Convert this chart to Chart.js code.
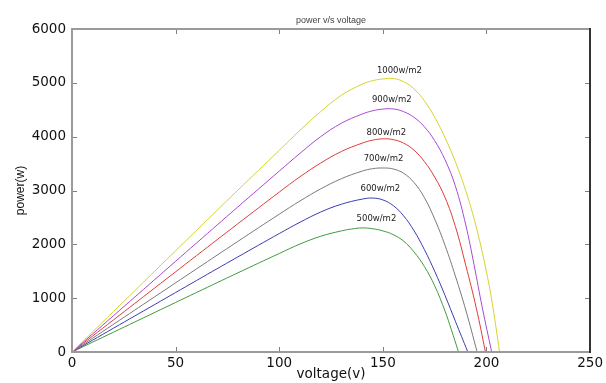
<!DOCTYPE html>
<html><head><meta charset="utf-8">
<script src="https://cdn.jsdelivr.net/npm/chart.js@4/dist/chart.umd.min.js"></script>
<style>html,body{margin:0;padding:0;background:#fff}canvas{display:block}</style>
</head><body>
<canvas id="c" width="606" height="383"></canvas>
<script>
// ---- data ----
const seriesNames = ['1000w/m2', '900w/m2', '800w/m2', '700w/m2', '600w/m2', '500w/m2'];

const v1000 = [0, 20, 40, 60, 80, 100, 110, 120, 130, 140, 145, 150, 155, 160, 165, 170, 175, 180, 185, 190, 195, 200, 203, 206.3];
const p1000 = [0, 752, 1504, 2256, 3005, 3745, 4120, 4465, 4770, 4975, 5040, 5072, 5080, 5022, 4889, 4669, 4361, 3981, 3533, 2995, 2330, 1485, 855, 0];

const v900 = [0, 20, 40, 60, 80, 100, 110, 120, 130, 140, 145, 150, 155, 160, 165, 170, 175, 180, 185, 190, 194, 198, 202.5];
const p900 = [0, 674, 1348, 2022, 2694, 3360, 3690, 4000, 4250, 4420, 4480, 4512, 4515, 4465, 4360, 4185, 3925, 3570, 3080, 2360, 1620, 820, 0];

const v800 = [0, 20, 40, 60, 80, 100, 110, 120, 130, 140, 145, 150, 155, 160, 165, 170, 175, 180, 185, 190, 195, 199.5];
const p800 = [0, 596, 1192, 1788, 2382, 2970, 3255, 3510, 3725, 3880, 3935, 3960, 3945, 3880, 3750, 3540, 3250, 2870, 2330, 1610, 830, 0];

const v700 = [0, 20, 40, 60, 80, 100, 110, 120, 130, 140, 145, 150, 155, 160, 165, 170, 175, 180, 185, 190, 195.5];
const p700 = [0, 514, 1028, 1542, 2054, 2560, 2805, 3030, 3220, 3360, 3405, 3418, 3400, 3320, 3150, 2870, 2470, 1980, 1410, 780, 0];

const v600 = [0, 20, 40, 60, 80, 100, 110, 120, 130, 140, 145, 150, 155, 160, 165, 170, 175, 180, 185, 191];
const p600 = [0, 442, 884, 1326, 1766, 2200, 2410, 2600, 2745, 2840, 2860, 2825, 2720, 2530, 2255, 1905, 1500, 1050, 570, 0];

const v500 = [0, 20, 40, 60, 80, 100, 110, 120, 130, 135, 140, 145, 150, 155, 160, 165, 170, 175, 180, 183, 186.5];
const p500 = [0, 368, 736, 1104, 1470, 1830, 2005, 2150, 2250, 2285, 2305, 2290, 2250, 2180, 2060, 1860, 1590, 1230, 760, 420, 0];

// label anchor values (voltage, power) for the curve annotations
const labelV = [158, 154.3, 151.7, 150.3, 148.8, 146.9];
const labelP = [5229, 4684, 4076, 3587, 3030, 2472];

const xTicks = [0, 50, 100, 150, 200, 250];
const yTicks = [0, 1000, 2000, 3000, 4000, 5000, 6000];

const chartTitle = 'power v/s voltage';
const xTitle = 'voltage(v)';
const yTitle = 'power(w)';

// ---- styles ----
const colors = ['#d4d42a', '#a848d4', '#e03a3a', '#7a7a7a', '#3c3cb0', '#3e9a3e'];
const vs = [v1000, v900, v800, v700, v600, v500];
const ps = [p1000, p900, p800, p700, p600, p500];

const datasets = seriesNames.map((name, i) => ({
  label: name,
  data: vs[i].map((v, j) => ({x: v, y: ps[i][j]})),
  borderColor: colors[i],
  backgroundColor: colors[i],
  borderWidth: 1,
  pointRadius: 0,
  showLine: true,
  fill: false,
  tension: 0.4
}));

const frame = {
  id: 'frame',
  afterDraw(chart) {
    const {ctx, chartArea: a, scales: {x, y}} = chart;
    ctx.save();
    ctx.globalAlpha = 1;
    ctx.globalCompositeOperation = 'source-over';
    const L = Math.round(a.left), R = Math.round(a.right), T = Math.round(a.top), B = Math.round(a.bottom);
    const tl = 5;
    // inside ticks
    ctx.fillStyle = '#808080';
    xTicks.forEach(t => {
      const px = Math.round(x.getPixelForValue(t));
      ctx.fillRect(px, B - tl, 1, tl);
      ctx.fillRect(px, T, 1, tl);
    });
    yTicks.forEach(t => {
      const py = Math.round(y.getPixelForValue(t));
      ctx.fillRect(L, py, tl, 1);
      ctx.fillRect(R - tl, py, tl, 1);
    });
    // box
    ctx.fillStyle = '#9a9a9a';
    ctx.fillRect(L - 1, T - 1, R - L + 2, 2);
    ctx.fillRect(L - 1, T - 1, 2, B - T + 2);
    ctx.fillRect(L - 1, B - 1, R - L + 2, 2);
    ctx.fillStyle = '#333';
    ctx.fillRect(R - 1, T - 1, 2, B - T + 2);
    // curve labels
    ctx.fillStyle = '#222';
    ctx.font = '8.5px "DejaVu Sans"';
    ctx.textAlign = 'center';
    ctx.textBaseline = 'middle';
    seriesNames.forEach((n, i) => {
      ctx.fillText(n, x.getPixelForValue(labelV[i]), y.getPixelForValue(labelP[i]));
    });
    // title
    ctx.fillStyle = '#444';
    ctx.font = '9px "Liberation Sans"';
    ctx.fillText(chartTitle, (a.left + a.right) / 2, 21);
    ctx.restore();
  }
};

new Chart(document.getElementById('c'), {
  type: 'scatter',
  data: {datasets},
  options: {
    responsive: false,
    animation: false,
    layout: {padding: {top: 29, right: 14, left: 0, bottom: 0}},
    plugins: {legend: {display: false}, tooltip: {enabled: false}, title: {display: false}},
    scales: {
      x: {
        type: 'linear', min: 0, max: 250,
        afterBuildTicks: s => { s.ticks = xTicks.map(v => ({value: v})); },
        afterFit: s => { s.height = 31; },
        grid: {display: false, drawTicks: false},
        border: {display: false},
        ticks: {color: '#111', padding: 3, font: {family: 'DejaVu Sans', size: 13.5}, maxRotation: 0, autoSkip: false, callback: v => String(v)},
        title: {display: true, text: xTitle, color: '#111', font: {family: 'DejaVu Sans', size: 13.5}, padding: {top: 0, bottom: 0}}
      },
      y: {
        type: 'linear', min: 0, max: 6000,
        afterBuildTicks: s => { s.ticks = yTicks.map(v => ({value: v})); },
        afterFit: s => { s.width = 72; },
        grid: {display: false, drawTicks: false},
        border: {display: false},
        ticks: {color: '#111', padding: 6, font: {family: 'DejaVu Sans', size: 13.5}, autoSkip: false, callback: v => String(v)},
        title: {display: true, text: yTitle, color: '#111', font: {family: 'Liberation Sans', size: 12}, padding: {top: 13, bottom: 0}}
      }
    }
  },
  plugins: [frame]
});
</script>
</body></html>
